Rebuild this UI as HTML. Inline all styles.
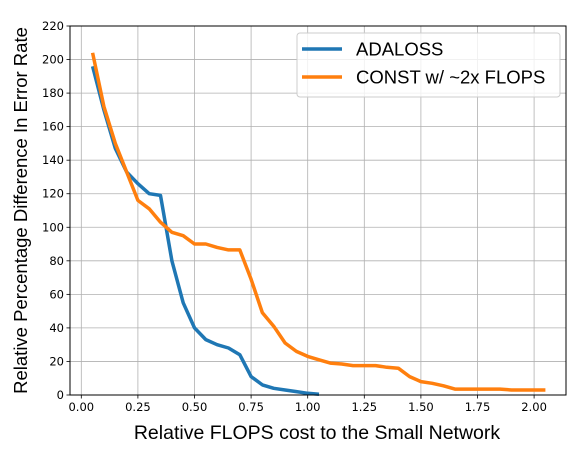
<!DOCTYPE html>
<html><head><meta charset="utf-8"><style>
body{margin:0;background:#fff}
text{font-family:"DejaVu Sans","Liberation Sans",sans-serif}
.lib{font-family:"Liberation Sans",Arial,sans-serif}
</style></head><body>
<svg id="c" width="579" height="452" xmlns="http://www.w3.org/2000/svg"></svg>
<script>
const xs = [0.05,0.10,0.15,0.20,0.25,0.30,0.35,0.40,0.45,0.50,0.55,0.60,0.65,0.70,0.75,0.80,0.85,0.90,0.95,1.00,1.05,1.10,1.15,1.20,1.25,1.30,1.35,1.40,1.45,1.50,1.55,1.60,1.65,1.70,1.75,1.80,1.85,1.90,1.95,2.00,2.05];
const adaloss = [196,170,147,133,126,120,119,80,55,40,33,30,28,24,11,6,4,3,2,1,0.5];
const constFlops = [204,172,150,133,116,111,103,97,95,90,90,88,86.5,86.5,69,49,41,31,26,23,21,19,18.5,17.5,17.5,17.5,16.5,16,11,8,7,5.5,3.5,3.5,3.5,3.5,3.5,3,3,3,3];
const xTicks = [0,0.25,0.5,0.75,1.0,1.25,1.5,1.75,2.0];
const xTickLabels = ["0.00","0.25","0.50","0.75","1.00","1.25","1.50","1.75","2.00"];
const yTicks = [0,20,40,60,80,100,120,140,160,180,200,220];

const L=70,R=566,T=26,B=395;
const X=v=>81.3+v*226.4;
const Y=v=>B-(v/220)*(B-T);
const svg=document.getElementById('c');
const NS='http://www.w3.org/2000/svg';
function mk(t,a,txt){const e=document.createElementNS(NS,t);for(const k in a)e.setAttribute(k,a[k]);if(txt!==undefined)e.textContent=txt;svg.appendChild(e);return e;}

xTicks.forEach((v,i)=>{
  const g=mk('line',{x1:X(v),x2:X(v),y1:T,y2:B,stroke:'#b0b0b0','stroke-width':0.8});
  
  
  mk('line',{x1:X(v),x2:X(v),y1:B,y2:B+3.5,stroke:'#000','stroke-width':0.8});
  const t=mk('text',{x:X(v),y:B+16,'text-anchor':'middle','font-size':11.5},xTickLabels[i]);
  
  
});
yTicks.forEach(v=>{
  const g=mk('line',{x1:L,x2:R,y1:Y(v),y2:Y(v),stroke:'#b0b0b0','stroke-width':0.8});
  
  
  mk('line',{x1:L-3.5,x2:L,y1:Y(v),y2:Y(v),stroke:'#000','stroke-width':0.8});
  const t=mk('text',{x:L-6,y:Y(v)+4,'text-anchor':'end','font-size':11.5},String(v));
  
  
});
function line(vals,color,name){
  const p=vals.map((v,i)=>X(xs[i]).toFixed(1)+','+Y(v).toFixed(1)).join(' ');
  const e=mk('polyline',{points:p,fill:'none',stroke:color,'stroke-width':3.5,'stroke-linejoin':'round'});
  
  
}
line(adaloss,'#1f77b4','adaloss-line');
line(constFlops,'#ff7f0e','const-2x-flops-line');
const fr=mk('rect',{x:L,y:T,width:R-L,height:B-T,fill:'none',stroke:'#000','stroke-width':1});



const lg=mk('rect',{x:297,y:33,width:263,height:64,rx:3,fill:'#fff','fill-opacity':0.8,stroke:'#ccc'});


mk('line',{x1:302,x2:342,y1:49,y2:49,stroke:'#1f77b4','stroke-width':3.5});
const l1=mk('text',{x:356,y:55.5,'font-size':18.5,class:'lib'},'ADALOSS');


mk('line',{x1:302,x2:342,y1:77,y2:77,stroke:'#ff7f0e','stroke-width':3.5});
const l2=mk('text',{x:356,y:83.5,'font-size':18.5,class:'lib'},'CONST w/ ~2x FLOPS');



const xt=mk('text',{x:317,y:439,'text-anchor':'middle','font-size':19.5,class:'lib'},'Relative FLOPS cost to the Small Network');


const yt=mk('text',{x:0,y:0,'text-anchor':'middle','font-size':18.5,class:'lib',transform:'translate(27,'+((T+B)/2)+') rotate(-90)'},'Relative Percentage Difference In Error Rate');


</script>
</body></html>
